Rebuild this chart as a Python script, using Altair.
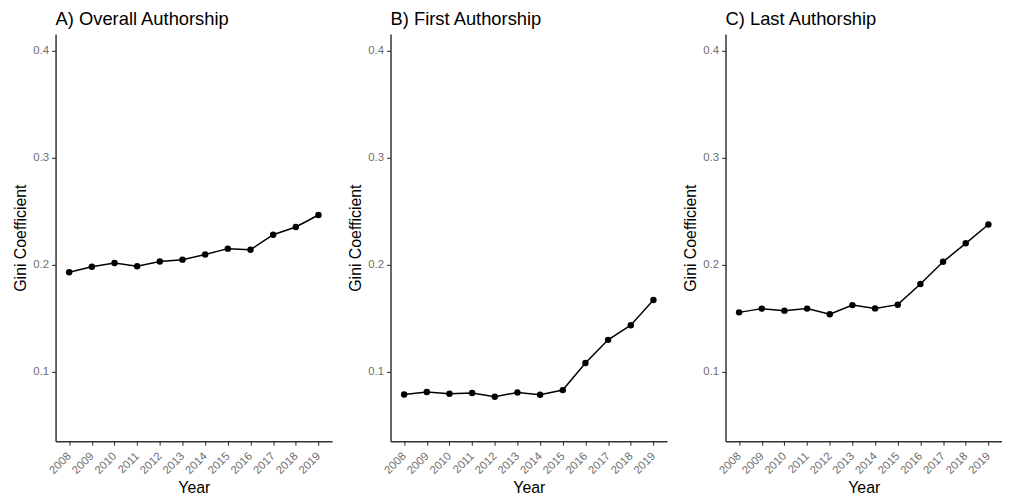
import altair as alt
import pandas as pd

years = ["2008", "2009", "2010", "2011", "2012", "2013",
         "2014", "2015", "2016", "2017", "2018", "2019"]
overall = [0.193, 0.198, 0.2015, 0.1985, 0.203, 0.2047,
           0.2095, 0.215, 0.214, 0.228, 0.2353, 0.2465]
first = [0.0786, 0.0809, 0.0793, 0.0799, 0.0765, 0.0805,
         0.0784, 0.0827, 0.108, 0.1297, 0.1434, 0.1669]
last = [0.1554, 0.1589, 0.157, 0.1589, 0.1536, 0.1622,
        0.1591, 0.1626, 0.182, 0.2027, 0.220, 0.2376]
titles = ["A) Overall Authorship", "B) First Authorship", "C) Last Authorship"]
y_ticks = [0.1, 0.2, 0.3, 0.4]
y_domain = [0.0348, 0.4158]

FONT = "Liberation Sans"


def panel(values, title, width):
    df = pd.DataFrame({"Year": years, "Gini": values})
    base = alt.Chart(df).encode(
        x=alt.X("Year:O", sort=years,
                scale=alt.Scale(type="point", padding=0.6),
                axis=alt.Axis(title="Year", labelAngle=-45, labelAlign="right",
                              labelBaseline="middle", labelPadding=9,
                              titlePadding=4)),
        y=alt.Y("Gini:Q",
                scale=alt.Scale(domain=y_domain, nice=False, zero=False),
                axis=alt.Axis(title="Gini Coefficient", values=y_ticks,
                              format=".1f", grid=False, labelPadding=3,
                              titlePadding=4)),
    )
    line = base.mark_line(color="black", strokeWidth=1.5)
    pts = base.mark_circle(color="black", size=42, opacity=1)
    return (line + pts).properties(
        width=width, height=411,
        title=alt.TitleParams(title, anchor="start", frame="group",
                              fontSize=18.5, fontWeight="normal", font=FONT,
                              color="black", offset=5.5),
    )


chart = alt.hconcat(
    panel(overall, titles[0], 279),
    panel(first, titles[1], 279),
    panel(last, titles[2], 279),
    spacing=16,
).properties(
    padding={"left": 5, "top": 0, "right": 0, "bottom": 0}
).configure_view(stroke=None).configure_axis(
    domainColor="#333333", domainWidth=1.5,
    tickColor="#333333", tickWidth=1.1, tickSize=4,
    labelColor="#6e6e6e", labelFontSize=11.5, labelFont=FONT,
    titleFont=FONT, titleFontSize=16, titleFontWeight="normal",
    titleColor="black",
)

chart.save("out.html", embed_options={"renderer": "svg", "actions": False})
